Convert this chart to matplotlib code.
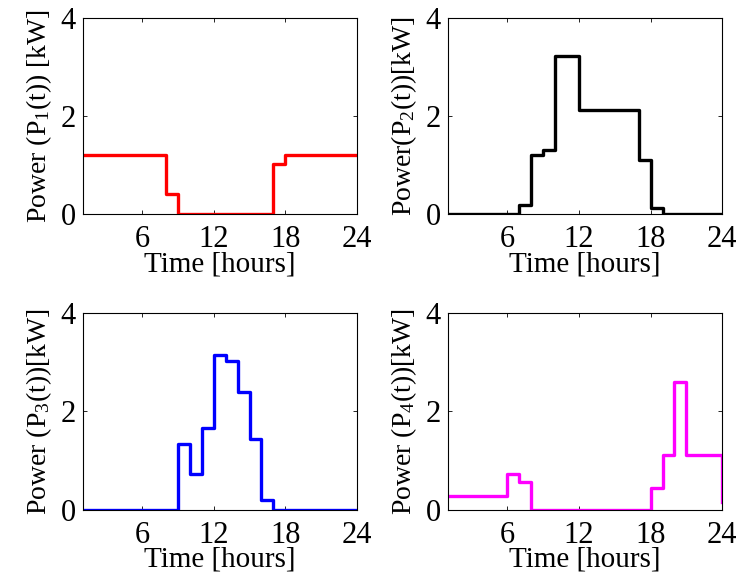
import numpy as np
import matplotlib
matplotlib.use('Agg')
import matplotlib.pyplot as plt

plt.rcParams['font.family'] = ['Liberation Serif', 'DejaVu Serif']
plt.rcParams['mathtext.fontset'] = 'custom'
plt.rcParams['mathtext.rm'] = 'Liberation Serif'
plt.rcParams['mathtext.it'] = 'Liberation Serif'
plt.rcParams['font.size'] = 21

# hours 1..24, value held from hour k to k+1 (stairs)
hours = np.arange(1, 25)

p1 = [1.2, 1.2, 1.2, 1.2, 1.2, 1.2, 1.2, 0.42, 0, 0, 0, 0, 0, 0, 0, 0,
      1.02, 1.2, 1.2, 1.2, 1.2, 1.2, 1.2, 1.2]
p2 = [0, 0, 0, 0, 0, 0, 0.18, 1.2, 1.3, 3.22, 3.22, 2.12, 2.12, 2.12, 2.12, 2.12,
      1.1, 0.12, 0, 0, 0, 0, 0, 0]
p3 = [0, 0, 0, 0, 0, 0, 0, 0, 1.34, 0.72, 1.66, 3.13, 3.02, 2.38, 1.44, 0.2,
      0, 0, 0, 0, 0, 0, 0, 0]
p4 = [0.28, 0.28, 0.28, 0.28, 0.28, 0.73, 0.55, 0, 0, 0, 0, 0, 0, 0, 0, 0,
      0, 0.44, 1.1, 2.6, 1.1, 1.1, 1.1, 0.15]

series = [p1, p2, p3, p4]
colors = ['#ff0000', '#000000', '#0000ff', '#ff00ff']
ylabels = ['Power (P$_1$(t)) [kW]', 'Power(P$_2$(t))[kW]',
           'Power (P$_3$(t))[kW]', 'Power (P$_4$(t))[kW]']

fig = plt.figure(figsize=(7.4, 5.79), dpi=100)
boxes = [[0.112, 0.630, 0.370, 0.339],
         [0.605, 0.630, 0.371, 0.339],
         [0.112, 0.120, 0.370, 0.340],
         [0.605, 0.120, 0.371, 0.340]]

for box, p, c, lab in zip(boxes, series, colors, ylabels):
    ax = fig.add_axes(box)
    ax.step(hours, p, where='post', color=c, linewidth=2.4)
    ax.set_xlim(1, 24)
    ax.set_ylim(0, 4)
    ax.set_xticks([6, 12, 18, 24])
    ax.set_yticks([0, 2, 4])
    ax.tick_params(direction='in', top=True, right=True, length=3, width=0.6,
                   labelsize=22)
    ax.tick_params(axis='x', pad=8)
    ax.tick_params(axis='y', pad=5)
    for s in ax.spines.values():
        s.set_linewidth(0.8)
    ax.set_xlabel('Time [hours]', labelpad=-2)
    ax.set_ylabel(lab, fontsize=20, labelpad=5)

fig.savefig('out.png', dpi=100)
